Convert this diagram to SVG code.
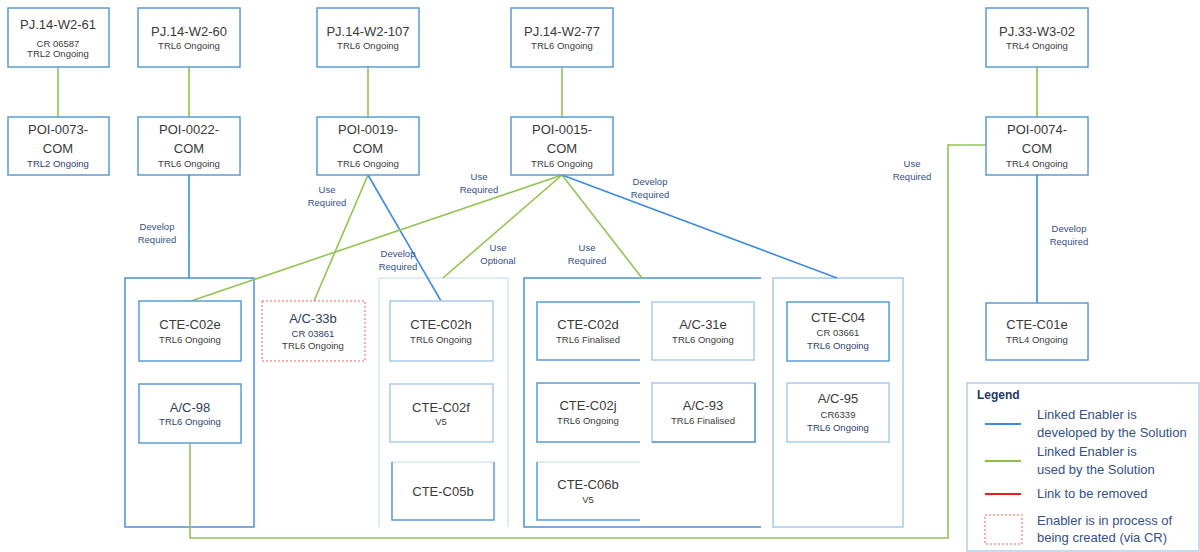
<svg xmlns="http://www.w3.org/2000/svg" width="1200" height="552" viewBox="0 0 1200 552">
  <style>
    text { font-family: "Liberation Sans", Arial, sans-serif; text-anchor: middle; }
    .t { font-size: 13px; fill: #3a3a3a; }
    .tn { font-size: 13px; fill: #2e3d62; }
    .s { font-size: 9.5px; fill: #3c3c3c; }
    .sn { font-size: 9.5px; fill: #2e4272; }
    .lbl { font-size: 9.5px; fill: #34508a; }
    .box { fill: #ffffff; stroke: #5b9bd5; stroke-width: 1.5; }
    .boxl { fill: #ffffff; stroke: #a9cbee; stroke-width: 1.5; }
    .edge { fill: none; stroke: #5b9bd5; stroke-width: 1.5; }
    .faint { fill: none; stroke: #d6e6f6; stroke-width: 1.5; }
    .grp { fill: none; stroke: #4d8fd6; stroke-width: 1.5; }
    .grpl { fill: none; stroke: #a7c8ec; stroke-width: 1.5; }
    .use { fill: none; stroke: #92c353; stroke-width: 1.6; }
    .dev { fill: none; stroke: #3d8be0; stroke-width: 1.6; }
    .cr { fill: #ffffff; stroke: #f06060; stroke-width: 1; stroke-dasharray: 2 2; }
    .leg { font-size: 13px; fill: #34508a; text-anchor: start; }
  </style>

  <rect width="1200" height="552" fill="#ffffff"/>

  <!-- enabler group frames -->
  <g id="groups">
    <rect class="grp" x="125" y="278" width="129" height="249"/>
    <path class="faint" d="M379,527 V278 H508 V527"/>
    <path class="grp" d="M761,278 H524 V527 H761"/>
    <rect class="grpl" x="773" y="278" width="130" height="249"/>
  </g>

  <!-- connectors -->
  <g id="connectors">
    <line class="use" x1="58" y1="67" x2="58" y2="117"/>
    <line class="use" x1="189" y1="67" x2="189" y2="117"/>
    <line class="use" x1="368" y1="67" x2="368" y2="117"/>
    <line class="use" x1="562" y1="67" x2="562" y2="117"/>
    <line class="use" x1="1037" y1="67" x2="1037" y2="117"/>

    <line class="dev" x1="189" y1="175" x2="189" y2="278"/>

    <line class="use" x1="368" y1="175" x2="314" y2="301"/>
    <line class="dev" x1="368" y1="175" x2="441" y2="301"/>

    <line class="use" x1="562" y1="175" x2="191" y2="301"/>
    <line class="use" x1="562" y1="175" x2="443" y2="278"/>
    <line class="use" x1="562" y1="175" x2="642" y2="278"/>
    <line class="dev" x1="562" y1="175" x2="837" y2="278"/>

    <line class="dev" x1="1037" y1="175" x2="1037" y2="303"/>
    <polyline class="use" points="986,145 948,145 948,538 190,538 190,443"/>

    <g id="connector-labels">
      <text class="lbl" x="157" y="230">Develop</text>
      <text class="lbl" x="157" y="243">Required</text>
      <text class="lbl" x="327" y="193">Use</text>
      <text class="lbl" x="327" y="206">Required</text>
      <text class="lbl" x="479" y="180">Use</text>
      <text class="lbl" x="479" y="193">Required</text>
      <text class="lbl" x="398" y="257">Develop</text>
      <text class="lbl" x="398" y="270">Required</text>
      <text class="lbl" x="498" y="251">Use</text>
      <text class="lbl" x="498" y="264">Optional</text>
      <text class="lbl" x="587" y="251">Use</text>
      <text class="lbl" x="587" y="264">Required</text>
      <text class="lbl" x="650" y="185">Develop</text>
      <text class="lbl" x="650" y="198">Required</text>
      <text class="lbl" x="912" y="167">Use</text>
      <text class="lbl" x="912" y="180">Required</text>
      <text class="lbl" x="1069" y="232">Develop</text>
      <text class="lbl" x="1069" y="245">Required</text>
    </g>
  </g>

  <!-- solutions (top row) -->
  <g id="pj-14-w2-61">
    <rect class="box" x="8" y="8" width="101" height="59"/>
    <text class="t" x="58" y="29">PJ.14-W2-61</text>
    <text class="s" x="58" y="47">CR 06587</text>
    <text class="s" x="58" y="57">TRL2 Ongoing</text>
  </g>
  <g id="pj-14-w2-60">
    <rect class="box" x="138" y="8" width="102" height="59"/>
    <text class="t" x="189" y="36">PJ.14-W2-60</text>
    <text class="s" x="189" y="49">TRL6 Ongoing</text>
  </g>
  <g id="pj-14-w2-107">
    <rect class="box" x="317" y="8" width="102" height="59"/>
    <text class="t" x="368" y="36">PJ.14-W2-107</text>
    <text class="s" x="368" y="49">TRL6 Ongoing</text>
  </g>
  <g id="pj-14-w2-77">
    <rect class="box" x="511" y="8" width="102" height="59"/>
    <text class="t" x="562" y="36">PJ.14-W2-77</text>
    <text class="s" x="562" y="49">TRL6 Ongoing</text>
  </g>
  <g id="pj-33-w3-02">
    <rect class="box" x="986" y="8" width="102" height="59"/>
    <text class="t" x="1037" y="36">PJ.33-W3-02</text>
    <text class="s" x="1037" y="49">TRL4 Ongoing</text>
  </g>

  <!-- POI row -->
  <g id="poi-0073-com">
    <rect class="box" x="8" y="117" width="101" height="58"/>
    <text class="t" x="58" y="134">POI-0073-</text>
    <text class="t" x="58" y="153">COM</text>
    <text class="sn" x="58" y="167">TRL2 Ongoing</text>
  </g>
  <g id="poi-0022-com">
    <rect class="box" x="138" y="117" width="102" height="58"/>
    <text class="t" x="189" y="134">POI-0022-</text>
    <text class="t" x="189" y="153">COM</text>
    <text class="s" x="189" y="167">TRL6 Ongoing</text>
  </g>
  <g id="poi-0019-com">
    <rect class="box" x="317" y="117" width="102" height="58"/>
    <text class="t" x="368" y="134">POI-0019-</text>
    <text class="t" x="368" y="153">COM</text>
    <text class="s" x="368" y="167">TRL6 Ongoing</text>
  </g>
  <g id="poi-0015-com">
    <rect class="box" x="511" y="117" width="102" height="58"/>
    <text class="t" x="562" y="134">POI-0015-</text>
    <text class="t" x="562" y="153">COM</text>
    <text class="s" x="562" y="167">TRL6 Ongoing</text>
  </g>
  <g id="poi-0074-com">
    <rect class="box" x="986" y="117" width="102" height="58"/>
    <text class="t" x="1037" y="134">POI-0074-</text>
    <text class="t" x="1037" y="153">COM</text>
    <text class="s" x="1037" y="167">TRL4 Ongoing</text>
  </g>

  <!-- enablers -->
  <g id="cte-c02e">
    <rect class="box" x="139" y="301" width="102" height="60"/>
    <text class="t" x="190" y="329">CTE-C02e</text>
    <text class="s" x="190" y="343">TRL6 Ongoing</text>
  </g>
  <g id="ac-98">
    <rect class="box" x="139" y="384" width="102" height="59"/>
    <text class="tn" x="190" y="412">A/C-98</text>
    <text class="sn" x="190" y="425">TRL6 Ongoing</text>
  </g>
  <g id="ac-33b">
    <rect class="cr" x="262" y="301" width="103" height="60"/>
    <text class="tn" x="313" y="323">A/C-33b</text>
    <text class="sn" x="313" y="337">CR 03861</text>
    <text class="s" x="313" y="349">TRL6 Ongoing</text>
  </g>
  <g id="cte-c02h">
    <rect class="boxl" x="390" y="301" width="103" height="60"/>
    <text class="t" x="441" y="329">CTE-C02h</text>
    <text class="s" x="441" y="343">TRL6 Ongoing</text>
  </g>
  <g id="cte-c02f">
    <rect class="boxl" x="390" y="384" width="103" height="58"/>
    <text class="t" x="441" y="412">CTE-C02f</text>
    <text class="s" x="441" y="425">V5</text>
  </g>
  <g id="cte-c05b">
    <rect x="392" y="462" width="102" height="58" fill="#ffffff"/>
    <line class="faint" x1="392" y1="462" x2="494" y2="462"/>
    <path class="edge" d="M392,462 V520 H494 V462"/>
    <text class="t" x="443" y="496">CTE-C05b</text>
  </g>
  <g id="cte-c02d">
    <path class="edge" d="M640,302 H537 V360 H640"/>
    <text class="t" x="588" y="329">CTE-C02d</text>
    <text class="s" x="588" y="343">TRL6 Finalised</text>
  </g>
  <g id="ac-31e">
    <rect class="boxl" x="652" y="302" width="102" height="58" stroke="#cfe1f3"/>
    <text class="t" x="703" y="329">A/C-31e</text>
    <text class="s" x="703" y="343">TRL6 Ongoing</text>
  </g>
  <g id="cte-c02j">
    <path class="edge" d="M640,383 H537 V442 H640"/>
    <text class="t" x="588" y="410">CTE-C02j</text>
    <text class="s" x="588" y="424">TRL6 Ongoing</text>
  </g>
  <g id="ac-93">
    <rect class="boxl" x="652" y="383" width="103" height="59"/>
    <path class="edge" d="M652,442 H755 V383"/>
    <text class="t" x="703" y="410">A/C-93</text>
    <text class="s" x="703" y="424">TRL6 Finalised</text>
  </g>
  <g id="cte-c06b">
    <line class="faint" x1="537" y1="462" x2="640" y2="462"/>
    <path class="edge" d="M537,462 V520 H640"/>
    <text class="t" x="588" y="489">CTE-C06b</text>
    <text class="s" x="588" y="503">V5</text>
  </g>
  <g id="cte-c04">
    <rect class="box" x="787" y="302" width="102" height="59"/>
    <text class="t" x="838" y="322">CTE-C04</text>
    <text class="s" x="838" y="336">CR 03661</text>
    <text class="sn" x="838" y="349">TRL6 Ongoing</text>
  </g>
  <g id="ac-95">
    <rect class="boxl" x="787" y="383" width="102" height="59"/>
    <text class="t" x="838" y="403">A/C-95</text>
    <text class="s" x="838" y="418">CR6339</text>
    <text class="sn" x="838" y="431">TRL6 Ongoing</text>
  </g>
  <g id="cte-c01e">
    <rect class="box" x="986" y="303" width="102" height="57"/>
    <text class="t" x="1037" y="329">CTE-C01e</text>
    <text class="s" x="1037" y="343">TRL4 Ongoing</text>
  </g>

  <!-- legend -->
  <g id="legend">
    <rect x="967" y="383" width="232" height="168" fill="#ffffff" stroke="#9dc3e6" stroke-width="1.2"/>
    <text x="977" y="399" style="font-size:12px;font-weight:bold;fill:#1f3864;text-anchor:start">Legend</text>
    <line x1="985" y1="424" x2="1021" y2="424" stroke="#3d8be0" stroke-width="2.2"/>
    <text class="leg" x="1037" y="419">Linked Enabler is</text>
    <text class="leg" x="1037" y="437">developed by the Solution</text>
    <line x1="985" y1="461" x2="1021" y2="461" stroke="#8dbf3f" stroke-width="2.2"/>
    <text class="leg" x="1037" y="456">Linked Enabler is</text>
    <text class="leg" x="1037" y="474">used by the Solution</text>
    <line x1="985" y1="494" x2="1021" y2="494" stroke="#ee1c1c" stroke-width="2.2"/>
    <text class="leg" x="1037" y="498">Link to be removed</text>
    <rect class="cr" x="985" y="515" width="37" height="29"/>
    <text class="leg" x="1037" y="525">Enabler is in process of</text>
    <text class="leg" x="1037" y="542">being created (via CR)</text>
  </g>
</svg>
